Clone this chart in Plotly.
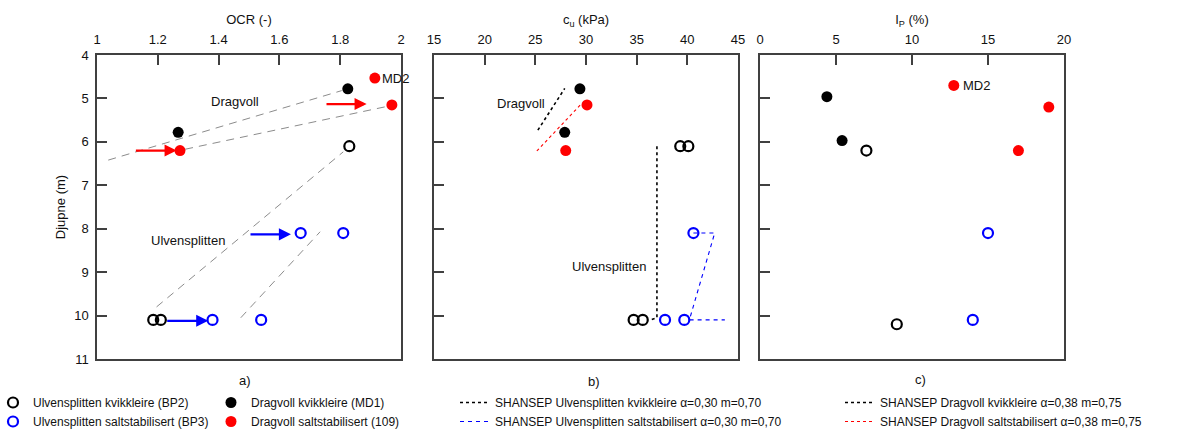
import plotly.graph_objects as go

W, H = 1203, 436

# ---------------- data ----------------
# Panel a) OCR vs depth
ocr_bp2 = [1.83, 1.185, 1.21]
ocr_bp2_depth = [6.1, 10.1, 10.1]
ocr_bp3 = [1.67, 1.81, 1.38, 1.54]
ocr_bp3_depth = [8.1, 8.1, 10.1, 10.1]
ocr_md1 = [1.825, 1.267]
ocr_md1_depth = [4.78, 5.78]
ocr_109 = [1.914, 1.97, 1.273]
ocr_109_depth = [4.53, 5.15, 6.2]

# gray dashed trend lines in panel a
trend_ocr = [[1.037, 1.805], [1.29, 1.95], [1.196, 1.81], [1.473, 1.734]]
trend_depth = [[6.42, 4.82], [6.17, 5.19], [9.8, 6.23], [10.05, 8.07]]

# arrows in panel a: (tail ocr, head ocr, depth, colour)
arrow_tail = [1.75, 1.123, 1.50, 1.226]
arrow_head = [1.887, 1.262, 1.638, 1.366]
arrow_depth = [5.13, 6.2, 8.13, 10.12]
arrow_color = ["#FF0000", "#FF0000", "#0000FF", "#0000FF"]

# Panel b) cu vs depth
cu_bp2 = [39.3, 40.1, 34.7, 35.6]
cu_bp2_depth = [6.1, 6.1, 10.1, 10.1]
cu_bp3 = [40.6, 37.8, 39.7]
cu_bp3_depth = [8.1, 10.1, 10.1]
cu_md1 = [29.4, 27.9]
cu_md1_depth = [4.78, 5.78]
cu_109 = [30.1, 28.0]
cu_109_depth = [5.15, 6.2]

# SHANSEP lines
sh_u_kvikk_cu = [37.0, 37.0, 36.4]
sh_u_kvikk_depth = [6.1, 10.05, 10.1]
sh_u_salt_cu = [40.6, 42.7, 40.2, 43.7]
sh_u_salt_depth = [8.1, 8.1, 10.1, 10.1]
sh_d_kvikk_cu = [25.25, 27.9]
sh_d_kvikk_depth = [5.73, 4.77]
sh_d_salt_cu = [25.15, 29.6]
sh_d_salt_depth = [6.21, 5.11]

# Panel c) Ip vs depth
ip_bp2 = [7.0, 9.0]
ip_bp2_depth = [6.2, 10.2]
ip_bp3 = [15.0, 14.0]
ip_bp3_depth = [8.1, 10.1]
ip_md1 = [4.4, 5.4]
ip_md1_depth = [4.96, 5.97]
ip_109 = [12.75, 19.0, 17.0]
ip_109_depth = [4.7, 5.2, 6.2]

x1_ticks = [1, 1.2, 1.4, 1.6, 1.8, 2]
x2_ticks = [15, 20, 25, 30, 35, 40, 45]
x3_ticks = [0, 5, 10, 15, 20]
y_ticks = [4, 5, 6, 7, 8, 9, 10, 11]

names = {
    "bp2": "Ulvensplitten kvikkleire (BP2)",
    "bp3": "Ulvensplitten saltstabilisert (BP3)",
    "md1": "Dragvoll kvikkleire (MD1)",
    "109": "Dragvoll saltstabilisert (109)",
    "shuk": "SHANSEP Ulvensplitten kvikkleire α=0,30 m=0,70",
    "shus": "SHANSEP Ulvensplitten saltstabilisert α=0,30 m=0,70",
    "shdk": "SHANSEP Dragvoll kvikkleire α=0,38 m=0,75",
    "shds": "SHANSEP Dragvoll saltstabilisert α=0,38 m=0,75",
}

BLACK, BLUE, RED = "#000000", "#0000FF", "#FF0000"
FONT = "Arial, 'Liberation Sans', sans-serif"

fig = go.Figure()

def open_pts(x, y, color, xa, ya, key, legend, show):
    fig.add_trace(go.Scatter(
        x=x, y=y, mode="markers", name=names[key], legendgroup=key,
        legend=legend, showlegend=show, xaxis=xa, yaxis=ya,
        marker=dict(symbol="circle-open", size=10, color=color,
                    line=dict(width=2.2, color=color))))

def filled_pts(x, y, color, xa, ya, key, legend, show):
    fig.add_trace(go.Scatter(
        x=x, y=y, mode="markers", name=names[key], legendgroup=key,
        legend=legend, showlegend=show, xaxis=xa, yaxis=ya,
        marker=dict(symbol="circle", size=11, color=color)))

# gray trend lines panel a
for tx, ty in zip(trend_ocr, trend_depth):
    fig.add_trace(go.Scatter(x=tx, y=ty, mode="lines", showlegend=False,
                             xaxis="x", yaxis="y", hoverinfo="skip",
                             line=dict(color="#8c8c8c", width=1, dash="8px,6px")))

# panel b SHANSEP lines
fig.add_trace(go.Scatter(x=sh_u_kvikk_cu, y=sh_u_kvikk_depth, mode="lines",
                         name=names["shuk"], legend="legend3", xaxis="x2", yaxis="y2",
                         line=dict(color=BLACK, width=1.6, dash="3px,3px")))
fig.add_trace(go.Scatter(x=sh_u_salt_cu, y=sh_u_salt_depth, mode="lines",
                         name=names["shus"], legend="legend3", xaxis="x2", yaxis="y2",
                         line=dict(color=BLUE, width=1.1, dash="4px,4px")))
fig.add_trace(go.Scatter(x=sh_d_kvikk_cu, y=sh_d_kvikk_depth, mode="lines",
                         name=names["shdk"], legend="legend4", xaxis="x2", yaxis="y2",
                         line=dict(color=BLACK, width=1.6, dash="3px,3px")))
fig.add_trace(go.Scatter(x=sh_d_salt_cu, y=sh_d_salt_depth, mode="lines",
                         name=names["shds"], legend="legend4", xaxis="x2", yaxis="y2",
                         line=dict(color=RED, width=1.1, dash="3px,3px")))

# points
open_pts(ocr_bp2, ocr_bp2_depth, BLACK, "x", "y", "bp2", "legend", True)
open_pts(ocr_bp3, ocr_bp3_depth, BLUE, "x", "y", "bp3", "legend", True)
filled_pts(ocr_md1, ocr_md1_depth, BLACK, "x", "y", "md1", "legend2", True)
filled_pts(ocr_109, ocr_109_depth, RED, "x", "y", "109", "legend2", True)

open_pts(cu_bp2, cu_bp2_depth, BLACK, "x2", "y2", "bp2", "legend", False)
open_pts(cu_bp3, cu_bp3_depth, BLUE, "x2", "y2", "bp3", "legend", False)
filled_pts(cu_md1, cu_md1_depth, BLACK, "x2", "y2", "md1", "legend2", False)
filled_pts(cu_109, cu_109_depth, RED, "x2", "y2", "109", "legend2", False)

open_pts(ip_bp2, ip_bp2_depth, BLACK, "x3", "y3", "bp2", "legend", False)
open_pts(ip_bp3, ip_bp3_depth, BLUE, "x3", "y3", "bp3", "legend", False)
filled_pts(ip_md1, ip_md1_depth, BLACK, "x3", "y3", "md1", "legend2", False)
filled_pts(ip_109, ip_109_depth, RED, "x3", "y3", "109", "legend2", False)

# ---------------- axes ----------------
ydom = [1 - 359 / H, 1 - 55 / H]
frame = dict(showline=True, linecolor="#404040", linewidth=1.5, mirror=True,
             ticks="inside", ticklen=10, tickwidth=1.5, tickcolor="#404040",
             showgrid=False, zeroline=False, ticklabelstandoff=4,
             tickfont=dict(size=13, family=FONT, color="#111"))

def xax(dom, rng, ticks, title, anchor):
    d = dict(frame)
    d.update(domain=[dom[0] / W, dom[1] / W], range=rng, tickvals=ticks,
             ticktext=[("%g" % t) for t in ticks], side="top", anchor=anchor,
             title=dict(text=title, standoff=4, font=dict(size=13, family=FONT, color="#111")))
    return d

def yax(anchor, labels, title=None):
    d = dict(frame)
    d.update(domain=ydom, range=[11, 4], tickvals=y_ticks, anchor=anchor,
             showticklabels=labels)
    if title:
        d["title"] = dict(text=title, standoff=6, font=dict(size=13, family=FONT, color="#111"))
    return d

annotations = []
for t, h, d, c in zip(arrow_tail, arrow_head, arrow_depth, arrow_color):
    annotations.append(dict(x=h, y=d, ax=t, ay=d, xref="x", yref="y", axref="x", ayref="y",
                            text="", showarrow=True, arrowhead=2, arrowsize=1.1,
                            arrowwidth=2.2, arrowcolor=c, standoff=0))

def txt(x, y, s, xref, yref, xanchor="center", size=13):
    annotations.append(dict(x=x, y=y, text=s, xref=xref, yref=yref, showarrow=False,
                            xanchor=xanchor, yanchor="middle",
                            font=dict(size=size, family=FONT, color="#111")))

txt(1.454, 5.08, "Dragvoll", "x", "y")
txt(1.30, 8.26, "Ulvensplitten", "x", "y")
txt(1.932, 4.53, "MD2", "x", "y", "left")
txt(23.55, 5.11, "Dragvoll", "x2", "y2")
txt(32.3, 8.88, "Ulvensplitten", "x2", "y2")
txt(13.25, 4.70, "MD2", "x3", "y3", "left")
txt(245 / W, 1 - 380 / H, "a)", "paper", "paper")
txt(594 / W, 1 - 381 / H, "b)", "paper", "paper")
txt(921 / W, 1 - 379 / H, "c)", "paper", "paper")

leg = dict(orientation="v", yanchor="middle", y=1 - 412 / H, xanchor="left",
           bgcolor="rgba(0,0,0,0)", borderwidth=0, tracegroupgap=0,
           font=dict(size=12, family=FONT, color="#111"))

fig.update_layout(
    width=W, height=H, margin=dict(l=0, r=0, t=0, b=0, autoexpand=False),
    paper_bgcolor="white", plot_bgcolor="white",
    font=dict(family=FONT, size=13, color="#111"),
    xaxis=xax((97, 401), [1, 2], x1_ticks, "OCR (-)", "y"),
    xaxis2=xax((434, 738), [15, 45], x2_ticks, "c<sub>u</sub> (kPa)", "y2"),
    xaxis3=xax((760, 1064), [0, 20], x3_ticks, "I<sub>P</sub> (%)", "y3"),
    yaxis=yax("x", True, "Djupne (m)"),
    yaxis2=yax("x2", False),
    yaxis3=yax("x3", False),
    legend=dict(leg, x=-7 / W),
    legend2=dict(leg, x=211 / W),
    legend3=dict(leg, x=455 / W),
    legend4=dict(leg, x=840 / W),
    annotations=annotations,
)

fig.write_html("out.html")
